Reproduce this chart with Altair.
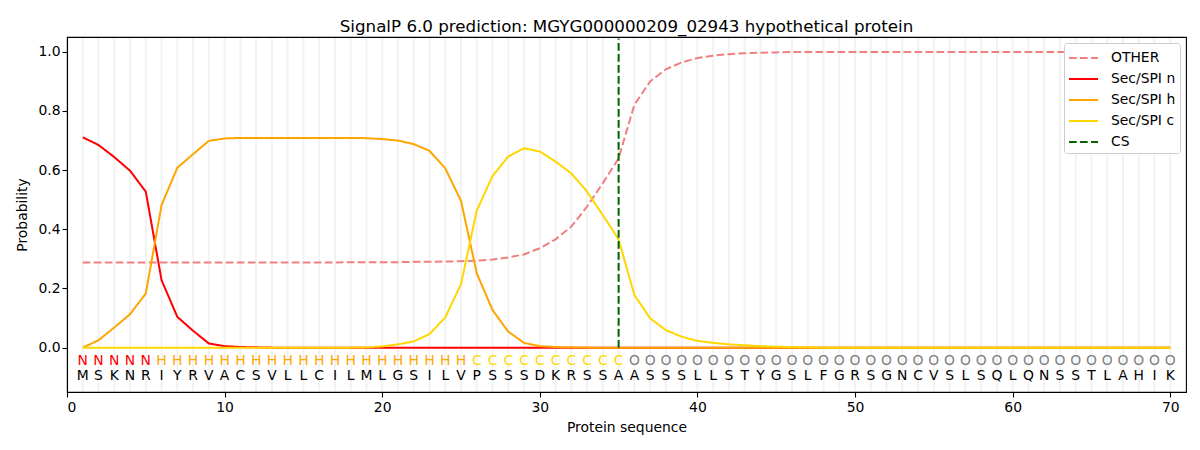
import altair as alt
import pandas as pd

positions = list(range(1, 71))
sequence = list("MSKNRIYRVACSVLLCILMLGSILVPSSSDKRSSAASSSLLSTYGSLFGRSGNCVSLSQLQNSSTLAHIK")
labels = list("N" * 5 + "H" * 20 + "C" * 10 + "O" * 35)

other = [0.288] * 17 + [0.289, 0.289, 0.289, 0.289, 0.290, 0.290, 0.291, 0.292,
         0.294, 0.298, 0.305, 0.315, 0.336, 0.366, 0.409, 0.477, 0.556, 0.640,
         0.821, 0.900, 0.941, 0.964, 0.979, 0.987, 0.992, 0.995, 0.997, 0.998] + \
        [0.999] * 24 + [0.998] * 8
sec_n = [0.711, 0.685, 0.644, 0.598, 0.527, 0.228, 0.104, 0.057, 0.014, 0.005,
         0.002, 0.001] + [0.0] * 58
sec_h = [0.0, 0.025, 0.068, 0.113, 0.183, 0.482, 0.608, 0.654, 0.699, 0.707,
         0.709, 0.709, 0.709, 0.709, 0.709, 0.709, 0.709, 0.709, 0.708, 0.705,
         0.700, 0.688, 0.665, 0.606, 0.496, 0.251, 0.127, 0.054, 0.016, 0.005,
         0.002, 0.001] + [0.0] * 38
sec_c = [0.0] * 18 + [0.001, 0.004, 0.011, 0.021, 0.046, 0.102, 0.215, 0.463,
         0.580, 0.646, 0.674, 0.663, 0.629, 0.589, 0.527, 0.448, 0.366, 0.178,
         0.099, 0.059, 0.037, 0.023, 0.016, 0.011, 0.008, 0.005, 0.003, 0.002,
         0.001] + [0.0] * 23
cs_position = [35]

series_names = ["OTHER", "Sec/SPI n", "Sec/SPI h", "Sec/SPI c", "CS"]
series_colors = ["#F08080", "#FF0000", "#FFA500", "#FFD700", "#006400"]
series_dashes = [[7.7, 3.3], [1, 0], [1, 0], [1, 0], [7.7, 3.3]]
label_colors = {"N": "#FF0000", "H": "#FFA500", "C": "#FFD700", "O": "#808080"}

rows = []
for name, vals in zip(series_names[:4], [other, sec_n, sec_h, sec_c]):
    for p, v in zip(positions, vals):
        rows.append({"pos": p, "prob": v, "series": name})
lines_df = pd.DataFrame(rows)
cs_df = pd.DataFrame({"pos": cs_position, "series": ["CS"]})
grid_df = pd.DataFrame({"pos": positions})
ann_df = pd.DataFrame({"pos": positions, "aa": sequence, "lab": labels})

xscale = alt.Scale(domain=[0, 71], nice=False, zero=False)
yscale = alt.Scale(domain=[-0.15, 1.05], nice=False, zero=False)
xaxis = alt.Axis(values=list(range(0, 71, 10)), grid=False, title="Protein sequence",
                 labelPadding=3, titlePadding=7)
yaxis = alt.Axis(values=[0.0, 0.2, 0.4, 0.6, 0.8, 1.0], format=".1f", grid=False,
                 title="Probability", titlePadding=8)

color_enc = alt.Color("series:N", scale=alt.Scale(domain=series_names, range=series_colors),
                      title=None,
                      legend=alt.Legend(orient="top-right", offset=6,
                                        symbolType="M-1,0H1.9",
                                        symbolSize=400, symbolStrokeWidth=2,
                                        labelFontSize=13.9, labelFont="DejaVu Sans",
                                        labelColor="black",
                                        labelOffset=21, padding=4, rowPadding=3,
                                        strokeColor="#cccccc", fillColor="white",
                                        cornerRadius=3))
dash_enc = alt.StrokeDash("series:N", scale=alt.Scale(domain=series_names, range=series_dashes),
                          title=None)

grid = alt.Chart(grid_df).mark_rule(color="#f2f2f2", strokeWidth=2).encode(
    x=alt.X("pos:Q", scale=xscale, axis=xaxis),
    y=alt.datum(-0.147, scale=yscale), y2=alt.datum(1.047)
)

layers = [grid]
for name in series_names[:4]:
    layers.append(
        alt.Chart(lines_df).transform_filter(alt.datum.series == name)
        .mark_line(strokeWidth=2)
        .encode(x=alt.X("pos:Q", scale=xscale, axis=xaxis),
                y=alt.Y("prob:Q", scale=yscale, axis=yaxis),
                color=color_enc, strokeDash=dash_enc)
    )

cs = alt.Chart(cs_df).mark_rule(strokeWidth=2).encode(
    x=alt.X("pos:Q", scale=xscale),
    y=alt.datum(0.0, scale=yscale), y2=alt.datum(1.045),
    color=color_enc, strokeDash=dash_enc
)
layers.append(cs)

for lab, col in label_colors.items():
    layers.append(
        alt.Chart(ann_df).transform_filter(alt.datum.lab == lab)
        .mark_text(fontSize=13.9, font="DejaVu Sans", color=col, baseline="middle")
        .encode(x=alt.X("pos:Q", scale=xscale), y=alt.datum(-0.046), text="lab:N")
    )
layers.append(
    alt.Chart(ann_df).mark_text(fontSize=13.9, font="DejaVu Sans", color="black",
                                baseline="middle")
    .encode(x=alt.X("pos:Q", scale=xscale), y=alt.datum(-0.096), text="aa:N")
)

chart = alt.layer(*layers).properties(
    width=1119, height=355,
    background="white",
    title=alt.TitleParams("SignalP 6.0 prediction: MGYG000000209_02943 hypothetical protein",
                          fontSize=16.7, font="DejaVu Sans", fontWeight="normal",
                          anchor="middle", offset=1, color="black"),
    autosize=alt.AutoSizeParams(type="none"),
    padding={"left": 59, "top": 29, "right": 5, "bottom": 50},
).configure_view(stroke="black", strokeWidth=1.1).configure_axis(
    domainColor="black", tickColor="black", labelColor="black", titleColor="black",
    labelFont="DejaVu Sans", titleFont="DejaVu Sans", labelFontSize=13.9,
    titleFontSize=13.9, titleFontWeight="normal", tickSize=5, domainWidth=1.1,
    tickWidth=1.1
)

chart.save("out.html", embed_options={"renderer": "svg", "actions": False})
